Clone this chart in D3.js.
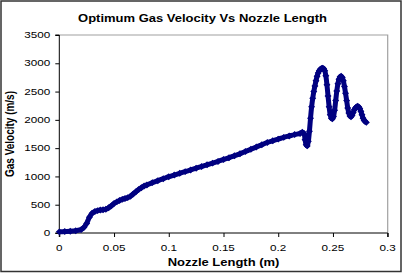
<!DOCTYPE html>
<html><head><meta charset="utf-8">
<script src="https://cdn.jsdelivr.net/npm/d3@7"></script>
<style>body{margin:0;background:#fff}svg{display:block}text{font-family:"Liberation Sans",Arial,sans-serif}</style>
</head><body><svg id="c" width="405" height="274"></svg>
<script>
const titleText = "Optimum Gas Velocity Vs Nozzle Length";
const xTitle = "Nozzle Length (m)";
const yTitle = "Gas Velocity (m/s)";
const xTicks = [0, 0.05, 0.1, 0.15, 0.2, 0.25, 0.3];
const yTicks = [0, 500, 1000, 1500, 2000, 2500, 3000, 3500];
const length = [0,0.005,0.01,0.015,0.02,0.0225,0.025,0.0275,0.03,0.0325,0.035,0.0375,0.04,0.0425,0.045,0.0475,0.05,0.0525,0.055,0.0575,0.06,0.0625,0.065,0.0675,0.07,0.0725,0.075,0.0775,0.08,0.085,0.09,0.095,0.1,0.105,0.11,0.115,0.12,0.125,0.13,0.135,0.14,0.145,0.15,0.155,0.16,0.165,0.17,0.175,0.18,0.185,0.19,0.195,0.2,0.205,0.21,0.215,0.22,0.222,0.2235,0.2245,0.2255,0.2265,0.2275,0.2285,0.2295,0.2305,0.2315,0.2325,0.2335,0.2345,0.2355,0.2365,0.2375,0.2385,0.2395,0.2405,0.2415,0.2425,0.2435,0.2445,0.2455,0.2465,0.2475,0.2485,0.2495,0.2505,0.2515,0.2525,0.2535,0.2545,0.2555,0.2565,0.2575,0.2585,0.2595,0.2605,0.2615,0.2625,0.2635,0.2645,0.2655,0.2665,0.2675,0.2685,0.2695,0.2705,0.2715,0.2725,0.2735,0.2745,0.2755,0.2765,0.2775,0.2785,0.2795,0.2805];
const velocity = [20,25,30,40,60,100,170,280,350,380,395,405,410,420,445,480,520,550,575,595,610,625,650,690,730,770,800,830,850,890,925,960,995,1025,1055,1085,1115,1145,1175,1205,1235,1265,1300,1330,1365,1400,1440,1480,1520,1560,1600,1630,1660,1690,1715,1740,1760,1780,1760,1650,1560,1540,1620,1800,2030,2230,2380,2500,2600,2690,2770,2830,2870,2895,2910,2915,2905,2870,2780,2620,2420,2230,2090,2030,2020,2060,2170,2340,2510,2640,2720,2760,2770,2750,2690,2590,2470,2340,2210,2120,2070,2055,2080,2130,2180,2210,2230,2240,2230,2200,2150,2090,2030,1990,1970,1955];

const svg = d3.select("#c");
const m = {l:59.3, r:387.7, t:35, b:233};
const x = d3.scaleLinear().domain([0,0.3]).range([m.l, m.r]);
const y = d3.scaleLinear().domain([0,3500]).range([m.b, m.t]);
const SX = 1.3;

// outer border
svg.append("rect").attr("x",1).attr("y",1).attr("width",400).attr("height",270.5)
  .attr("fill","#fff").attr("stroke","#333").attr("stroke-width",1.5);
// plot area border
svg.append("path").attr("d",`M${m.l},${m.t}H${m.r}V${m.b}`).attr("fill","none").attr("stroke","#a0a0a0").attr("stroke-width",1.2);

// axes
const gx = svg.append("g").attr("transform",`translate(0,${m.b})`)
  .call(d3.axisBottom(x).tickValues(xTicks).tickSize(4).tickFormat(""));
const gy = svg.append("g").attr("transform",`translate(${m.l},0)`)
  .call(d3.axisLeft(y).tickValues(yTicks).tickSize(4).tickFormat(""));
[gx,gy].forEach(g=>{g.select(".domain").attr("stroke","#000");g.selectAll(".tick line").attr("stroke","#000");});
gx.select(".domain").attr("d",`M${m.l},4V0H${m.r}V4`);
gy.select(".domain").attr("d",`M-4,${m.t}H0V${m.b}H-4`);

// tick labels
svg.append("g").selectAll("text").data(xTicks).join("text")
  .attr("transform",d=>`translate(${x(d)},${m.b+18}) scale(${SX},1)`)
  .attr("text-anchor","middle").attr("font-size",9).attr("fill","#000")
  .text(d=>String(d));
svg.append("g").selectAll("text").data(yTicks).join("text")
  .attr("transform",d=>`translate(${m.l-9},${y(d)+3.2}) scale(${SX},1)`)
  .attr("text-anchor","end").attr("font-size",9).attr("fill","#000")
  .text(d=>String(d));

// titles
svg.append("text").attr("transform",`translate(${(m.l+m.r)/2-21},22) scale(${SX},1)`)
  .attr("text-anchor","middle").attr("font-size",10).attr("font-weight","bold").text(titleText);
svg.append("text").attr("transform",`translate(${(m.l+m.r)/2},266) scale(${SX},1)`)
  .attr("text-anchor","middle").attr("font-size",10).attr("font-weight","bold").text(xTitle);
svg.append("text").attr("transform",`translate(13.5,${(m.t+m.b)/2}) rotate(-90) scale(1,${SX})`)
  .attr("text-anchor","middle").attr("font-size",10).attr("font-weight","bold").text(yTitle);

// data
const pts = length.map((v,i)=>[v, velocity[i]]);
const color = "#000080";
svg.append("path").datum(pts)
  .attr("d", d3.line().x(d=>x(d[0])).y(d=>y(d[1])).curve(d3.curveCatmullRom))
  .attr("fill","none").attr("stroke",color).attr("stroke-width",5).attr("stroke-linejoin","round");
const diamond = {draw(ctx,size){const r=Math.sqrt(size/2);ctx.moveTo(0,-r);ctx.lineTo(r,0);ctx.lineTo(0,r);ctx.lineTo(-r,0);ctx.closePath();}};
svg.append("g").selectAll("path").data(pts).join("path")
  .attr("transform",d=>`translate(${x(d[0])},${y(d[1])})`)
  .attr("d", d3.symbol().type(diamond).size(24)).attr("fill",color);
</script></body></html>
